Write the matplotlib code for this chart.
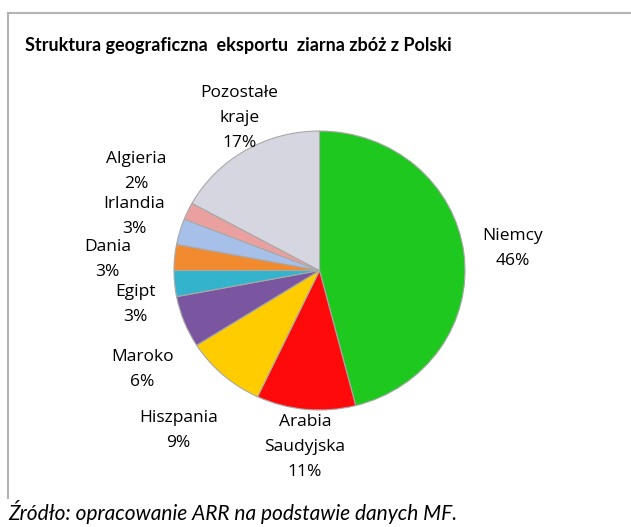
import matplotlib.pyplot as plt
from matplotlib.lines import Line2D
import numpy as np

# export structure (share %)
countries = ["Niemcy", "Arabia\nSaudyjska", "Hiszpania", "Maroko", "Egipt",
             "Dania", "Irlandia", "Algieria", "Pozostałe\nkraje"]
shares = [46, 11, 9, 6, 3, 3, 3, 2, 17]
colors = ["#1ec81e", "#ff0a0a", "#ffcc00", "#7b56a0", "#34b4cc",
          "#f28a30", "#a6c0ea", "#eba0a0", "#d6d6e0"]

# label placement: distance from centre (radii) and angular nudge (deg)
label_dist = [1.34, 1.27, 1.50, 1.41, 1.29, 1.46, 1.33, 1.445, 1.225]
label_shift = [-0.3, 0.9, 1.2, 8.7, 5.6, 2.2, -0.8, -4.1, -3.8]

W, H = 631, 527
fig = plt.figure(figsize=(W / 100, H / 100), dpi=100)
fig.patch.set_facecolor("white")

# pie area (slightly wider than tall, as in the source)
left, right, top, bottom = 174, 465, 131, 410
ax = fig.add_axes([left / W, 1 - bottom / H, (right - left) / W, (bottom - top) / H])
wedges, _ = ax.pie(shares, colors=colors, startangle=90, counterclock=False,
                   wedgeprops=dict(edgecolor="#a8a8a8", linewidth=0.8))
ax.set_aspect("auto")
ax.set_xlim(-1, 1)
ax.set_ylim(-1, 1)
ax.axis("off")

for w, name, val, d, s in zip(wedges, countries, shares, label_dist, label_shift):
    ang = np.deg2rad((w.theta1 + w.theta2) / 2 + s)
    ax.text(d * np.cos(ang), d * np.sin(ang), f"{name}\n{val}%",
            ha="center", va="center", fontsize=12.5, family="Open Sans",
            linespacing=1.75, clip_on=False)

# frame (top and left edge visible)
fig.add_artist(Line2D([8 / W, 1], [1 - 13 / H, 1 - 13 / H], color="#b4b4b4", lw=1.5))
fig.add_artist(Line2D([8 / W, 8 / W], [1 - 13 / H, 1 - 498 / H], color="#b4b4b4", lw=1.5))

fig.text(25 / W, 1 - 45 / H, "Struktura geograficzna  eksportu  ziarna zbóż z Polski",
         fontsize=13, fontweight="bold", family="Lato", va="center", ha="left")
fig.text(8 / W, 1 - 512 / H, "Źródło: opracowanie ARR na podstawie danych MF.",
         fontsize=15, style="italic", family="Lato", va="center", ha="left")

fig.savefig("out.png", dpi=100, facecolor="white")
